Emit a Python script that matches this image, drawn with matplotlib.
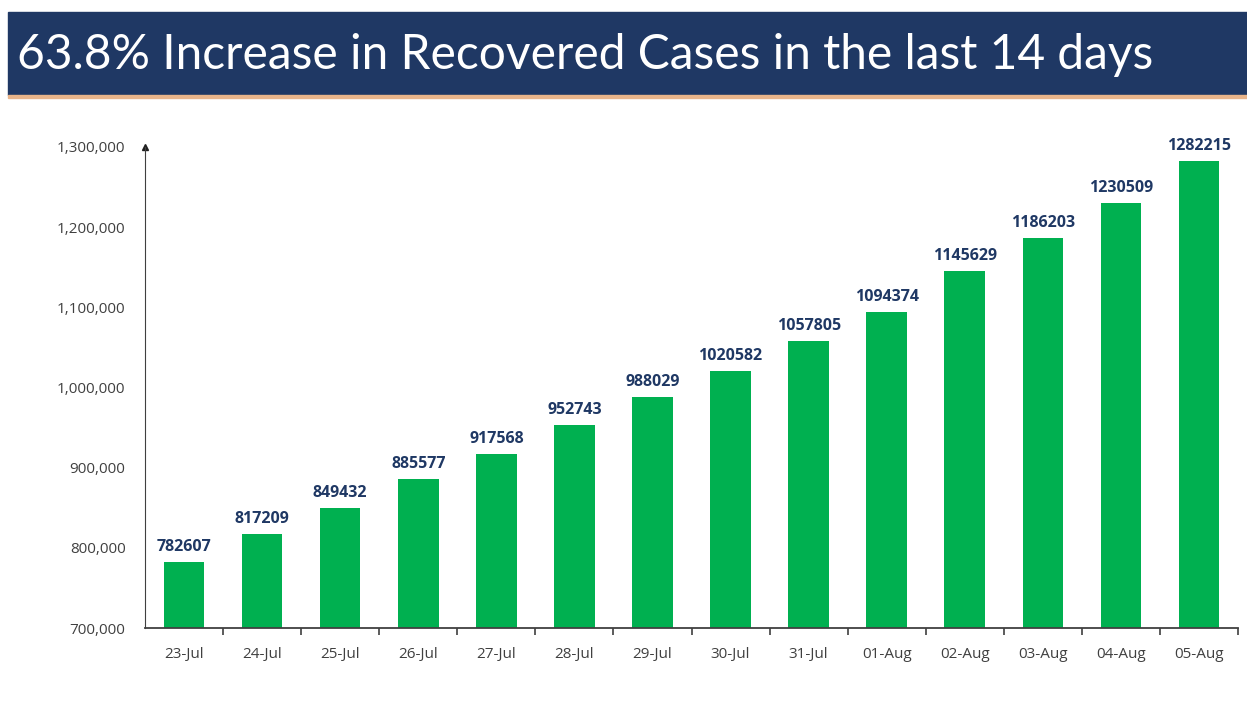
import matplotlib.pyplot as plt
from matplotlib.patches import Rectangle
from matplotlib.ticker import FuncFormatter, FixedLocator

dates = ["23-Jul", "24-Jul", "25-Jul", "26-Jul", "27-Jul", "28-Jul", "29-Jul",
         "30-Jul", "31-Jul", "01-Aug", "02-Aug", "03-Aug", "04-Aug", "05-Aug"]
recovered = [782607, 817209, 849432, 885577, 917568, 952743, 988029,
             1020582, 1057805, 1094374, 1145629, 1186203, 1230509, 1282215]
y_ticks = [700000, 800000, 900000, 1000000, 1100000, 1200000, 1300000]

title = "63.8% Increase in Recovered Cases in the last 14 days"

fig = plt.figure(figsize=(12.47, 7.05), dpi=100)

# header band
fig.patches.append(Rectangle((8 / 1247, 1 - 95 / 705), 1, 83 / 705,
                             transform=fig.transFigure, color="#1f3864", zorder=0))
fig.patches.append(Rectangle((8 / 1247, 1 - 98 / 705), 1, 3 / 705,
                             transform=fig.transFigure, color="#e8b48a", zorder=0))
fig.text(17 / 1247, 1 - 55 / 705, title, color="white", fontsize=34.5,
         family="Lato", va="center", ha="left")

ax = fig.add_axes([145 / 1247, 77 / 705, 1093 / 1247, 481 / 705])
x = range(len(dates))
ax.bar(x, recovered, width=0.52, color="#00b050")

for i, v in enumerate(recovered):
    ax.annotate(str(v), (i, v), xytext=(0, 5), textcoords="offset points",
                ha="center", va="bottom", fontsize=11.5, fontweight="bold",
                color="#1f3864", family="Open Sans")

ax.set_xlim(-0.5, len(dates) - 0.5)
ax.set_ylim(700000, 1300000)
ax.set_yticks(y_ticks)
ax.yaxis.set_major_formatter(FuncFormatter(lambda v, p: f"{int(v):,}"))
ax.set_xticks(list(x))
ax.set_xticklabels(dates)
ax.xaxis.set_minor_locator(FixedLocator([i + 0.5 for i in range(len(dates))]))
ax.tick_params(axis="x", which="major", length=0, pad=14, labelsize=11,
               labelcolor="#404040")
ax.tick_params(axis="x", which="minor", length=5, width=1.2, color="#404040")
ax.tick_params(axis="y", length=0, pad=14, labelsize=11, labelcolor="#404040")
for lbl in ax.get_xticklabels() + ax.get_yticklabels():
    lbl.set_family("Open Sans")

ax.spines["top"].set_visible(False)
ax.spines["right"].set_visible(False)
ax.spines["left"].set_color("#404040")
ax.spines["bottom"].set_color("#404040")
ax.spines["bottom"].set_linewidth(1.3)
ax.plot(0, 1, marker="^", color="#202020", markersize=5,
        transform=ax.transAxes, clip_on=False)

fig.savefig("out.png", dpi=100)
